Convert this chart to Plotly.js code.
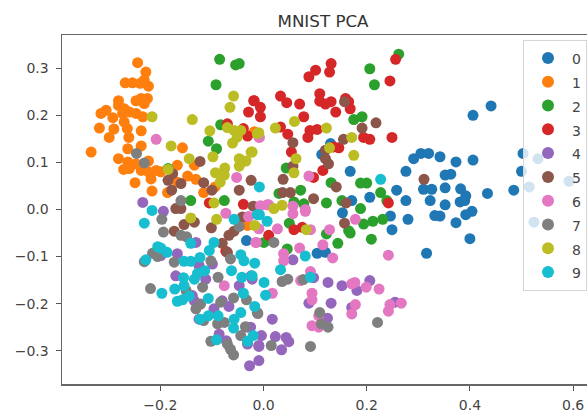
<!DOCTYPE html>
<html><head><meta charset="utf-8">
<script src="https://cdn.plot.ly/plotly-3.0.1.min.js"></script>
<style>html,body{margin:0;padding:0;background:#fff;overflow:hidden}#c{width:620px;height:414px}</style>
</head><body><div id="c"></div>
<script>
const labels=["0","1","2","3","4","5","6","7","8","9"];
const colors=["#1f77b4","#ff7f0e","#2ca02c","#d62728","#9467bd","#8c564b","#e377c2","#7f7f7f","#bcbd22","#17becf"];
const xTicks=[-0.2,0,0.2,0.4,0.6];
const yTicks=[-0.3,-0.2,-0.1,0,0.1,0.2,0.3];
const pts0=[[.441,.220],[.406,.200],[.342,.112],[.373,.101],[.406,.105],[.503,.119],[.500,.081],[.352,.073],[.363,.075],[.352,.046],[.382,.044],[.392,.029],[.381,.016],[.390,.019],[.352,.010],[.434,.034],[.485,.041],[.404,-.004],[.392,-.011],[.373,-.028],[.342,-.014],[.400,-.062],[.532,.108],[.515,.048],[.592,.060],[.524,-.027],[.291,.108],[.305,.119],[.320,.119],[.276,.081],[.168,.081],[.258,.041],[.276,.019],[.206,.026],[.171,.019],[.310,.043],[.326,.043],[.323,.019],[.130,.140],[.113,.117],[.153,-.007],[.246,-.014],[.280,-.021],[.249,-.043],[.332,-.013],[.316,-.093],[.104,-.093],[.120,-.091],[-.033,-.066]];
const pts1=[[-.244,.312],[-.228,.292],[-.268,.269],[-.254,.269],[-.239,.268],[-.223,.262],[-.231,.275],[-.281,.231],[-.281,.221],[-.225,.236],[-.231,.225],[-.247,.231],[-.237,.236],[-.305,.211],[-.315,.204],[-.292,.195],[-.270,.214],[-.260,.207],[-.273,.204],[-.247,.204],[-.234,.197],[-.270,.186],[-.318,.173],[-.290,.171],[-.264,.172],[-.237,.167],[-.299,.153],[-.261,.153],[-.237,.135],[-.263,.129],[-.334,.122],[-.281,.108],[-.263,.101],[-.271,.085],[-.260,.087],[-.247,.097],[-.223,.103],[-.237,.083],[-.223,.080],[-.208,.083],[-.199,.080],[-.218,.065],[-.167,.094],[-.157,.131],[-.134,.094],[-.249,.057],[-.216,.039],[-.147,.071],[-.131,.064],[-.167,.058],[-.186,.036],[-.116,.036],[-.094,.048],[-.018,.165],[-.031,-.034]];
const pts2=[[-.085,.319],[-.054,.307],[-.047,.310],[-.092,.265],[-.083,.180],[-.107,.145],[-.091,.129],[-.185,.087],[-.141,.019],[-.076,.019],[.262,.330],[.206,.299],[.215,.265],[.175,.191],[.191,.197],[.044,.088],[.131,.057],[.188,.056],[.200,.056],[.227,.036],[.239,.019],[.122,.014],[.152,.019],[.188,.002],[.030,.034],[.072,.041],[.059,.016],[.078,.012],[.122,-.052],[.144,-.072],[.209,-.063],[.194,-.031],[.212,-.025],[.231,-.021],[.165,-.045],[.168,-.050],[.050,-.029],[.046,-.084],[.001,-.070]];
const pts3=[[.256,.319],[.245,.273],[.131,.310],[.128,.292],[.101,.296],[.088,.282],[.033,.241],[.045,.227],[.070,.224],[.109,.246],[.109,.230],[.120,.224],[.131,.229],[.140,.207],[.159,.236],[.168,.214],[.165,.229],[-.019,.231],[-.006,.217],[-.006,.197],[-.029,.207],[-.018,.231],[.078,.197],[.033,.175],[.047,.160],[.086,.153],[.090,.168],[.104,.170],[.194,.153],[.206,.149],[.249,.153],[.054,.122],[.146,.131],[.136,.133],[.115,.083],[.097,.068],[.242,.014],[-.070,.182],[-.039,.172],[-.031,.156],[-.105,.014],[-.039,.011],[.059,-.043],[.075,-.038],[.010,-.055],[-.073,-.089]];
const pts4=[[-.234,.015],[-.194,-.004],[-.131,-.070],[-.167,-.094],[-.199,-.098],[-.170,-.141],[-.099,-.116],[-.112,-.148],[-.125,-.119],[-.047,-.162],[-.024,-.141],[-.138,-.183],[-.134,-.194],[-.096,-.211],[-.080,-.194],[-.067,-.206],[-.125,-.233],[-.086,-.265],[-.072,-.279],[-.031,-.250],[-.031,-.286],[-.009,-.289],[-.027,-.332],[-.009,-.321],[-.004,-.268],[-.009,-.291],[.023,-.270],[.044,-.272],[.049,-.281],[.035,-.298],[.017,-.233],[.057,-.107],[.097,-.145],[.125,-.155],[.152,-.162],[.181,-.172],[.206,-.151],[.131,-.199],[.088,-.199],[.124,-.231],[.171,-.208],[.255,-.197],[-.025,-.250],[-.022,-.148]];
const pts5=[[-.123,.102],[-.185,.062],[-.176,.076],[-.178,.041],[-.160,.055],[-.116,.057],[-.100,.041],[-.047,.041],[-.024,.062],[-.020,.007],[-.170,.002],[-.160,.002],[-.173,-.046],[-.154,-.032],[-.134,-.027],[-.101,-.039],[-.067,-.055],[-.057,-.046],[-.080,-.072],[-.070,-.091],[-.041,-.016],[.157,.229],[.218,.184],[.191,.173],[.155,.149],[.057,.142],[.120,.126],[.120,.108],[.126,.097],[.057,.092],[.038,.064],[.037,.036],[.052,.036],[.097,.023],[.141,.048],[.160,.014],[.311,.064],[.157,-.029]];
const pts6=[[-.208,.149],[-.052,.068],[-.073,-.008],[-.029,-.015],[-.015,-.070],[-.076,-.162],[-.009,.154],[.088,.071],[-.008,.153],[.057,.007],[.007,.010],[.081,.000],[.057,-.009],[.081,-.004],[-.006,.008],[.010,.010],[.027,-.041],[-.014,-.070],[-.009,-.041],[.128,-.043],[.091,-.043],[.178,-.021],[.115,-.075],[.070,-.082],[.134,-.103],[.039,-.094],[.039,-.109],[.242,-.097],[.091,-.132],[.072,-.151],[.177,-.155],[.171,-.158],[.199,-.165],[.224,-.169],[.017,-.178],[.094,-.178],[.094,-.192],[.178,-.202],[.171,-.222],[.245,-.202],[.242,-.216],[.267,-.199],[.094,-.247],[.107,-.250],[.107,-.226]];
const pts7=[[-.246,.119],[-.231,.099],[-.160,.019],[-.197,-.021],[-.194,-.048],[-.160,-.055],[-.149,-.058],[-.047,-.036],[-.215,-.093],[-.205,-.100],[-.231,-.111],[-.173,-.112],[-.102,-.109],[-.064,-.105],[-.088,-.144],[-.118,-.165],[-.219,-.168],[-.150,-.172],[-.058,-.188],[-.033,-.192],[-.083,-.197],[-.122,-.201],[-.131,-.211],[-.012,-.219],[-.116,-.236],[-.089,-.243],[-.076,-.240],[-.035,-.249],[-.044,-.268],[-.102,-.280],[-.070,-.286],[-.064,-.297],[-.058,-.309],[.020,-.070],[.036,-.153],[.047,-.148],[.077,-.149],[-.011,-.221],[.109,-.219],[.112,-.243],[.125,-.250],[.221,-.240],[.015,-.289],[.091,-.291]];
const pts8=[[-.216,.197],[-.138,.191],[-.058,.241],[-.065,.217],[-.104,.167],[-.070,.174],[-.057,.168],[-.044,.168],[-.051,.154],[-.060,.141],[-.012,.161],[-.179,.135],[-.144,.108],[-.098,.112],[-.185,.085],[-.024,.122],[-.047,.108],[-.034,.103],[-.047,.092],[-.075,.088],[-.093,.078],[-.076,.073],[-.084,.058],[-.096,.014],[-.009,.163],[.023,.173],[.060,.187],[.122,.173],[.171,.153],[.128,.131],[.175,.115],[.063,.108],[.059,.078],[-.022,.122],[.020,.002],[.036,.009],[-.141,-.018],[-.091,-.021],[-.017,-.034],[.083,-.043]];
const pts9=[[-.216,-.002],[-.231,-.029],[-.057,-.021],[-.012,-.011],[-.141,-.072],[-.096,-.070],[-.105,-.087],[-.205,-.079],[-.199,-.082],[-.187,-.091],[-.228,-.107],[-.154,-.110],[-.141,-.110],[-.123,-.102],[-.044,-.096],[-.038,-.109],[-.017,-.114],[-.062,-.130],[-.042,-.144],[-.114,-.130],[-.128,-.136],[-.155,-.145],[-.134,-.148],[-.154,-.162],[-.172,-.169],[-.197,-.178],[-.144,-.184],[-.157,-.192],[-.167,-.195],[-.107,-.189],[-.039,-.178],[-.017,-.206],[-.044,-.219],[-.057,-.233],[-.058,-.252],[-.088,-.226],[-.107,-.226],[-.123,-.233],[-.020,-.268],[-.031,-.280],[-.091,-.277],[.227,.064],[-.008,.048],[-.008,-.011],[.007,-.025],[.081,-.099],[.033,-.128],[.001,-.155],[.004,-.182],[.091,-.144],[-.022,-.141]];
const series=[pts0,pts1,pts2,pts3,pts4,pts5,pts6,pts7,pts8,pts9];
const data=series.map((p,i)=>({type:"scatter",mode:"markers",name:'<span style="font-size:14px">'+labels[i]+'</span>',x:p.map(q=>q[0]),y:p.map(q=>q[1]),
  marker:{color:colors[i],size:11,line:{width:0}}}));
const font="DejaVu Sans";
const fmt=v=>v===0?"0.0":(v<0?"\u2212":"")+Math.abs(v).toFixed(1);
const axisBase={showgrid:false,zeroline:false,showline:true,mirror:true,linecolor:"#666",linewidth:1.5,ticks:"outside",ticklen:5,tickwidth:1,tickcolor:"#555",tickfont:{size:14,color:"#444"}};
const layout={width:620,height:414,paper_bgcolor:"#fff",plot_bgcolor:"#fff",showlegend:true,
 font:{family:font,size:14,color:"#444"},
 title:{text:"MNIST PCA",font:{family:font,size:16.7,color:"#333"},x:323/620,xanchor:"center",y:1-21/414,yanchor:"middle"},
 margin:{l:62,r:20,t:35,b:30},
 xaxis:Object.assign({range:[-0.3905,0.6521],tickvals:xTicks,ticktext:xTicks.map(fmt),ticklabelstandoff:3},axisBase),
 yaxis:Object.assign({range:[-0.3708,0.3707],tickvals:yTicks,ticktext:yTicks.map(fmt),ticklabelstandoff:4},axisBase),
 legend:{x:(523-62)/538,y:(384-40)/349,xanchor:"left",yanchor:"top",bgcolor:"rgba(255,255,255,0.8)",bordercolor:"#d5d5d5",borderwidth:1,font:{size:16,color:"#444"},itemsizing:"constant",itemwidth:38,tracegroupgap:0,itemclick:false}
};
Plotly.newPlot("c",data,layout,{displayModeBar:false,staticPlot:true});
</script></body></html>
